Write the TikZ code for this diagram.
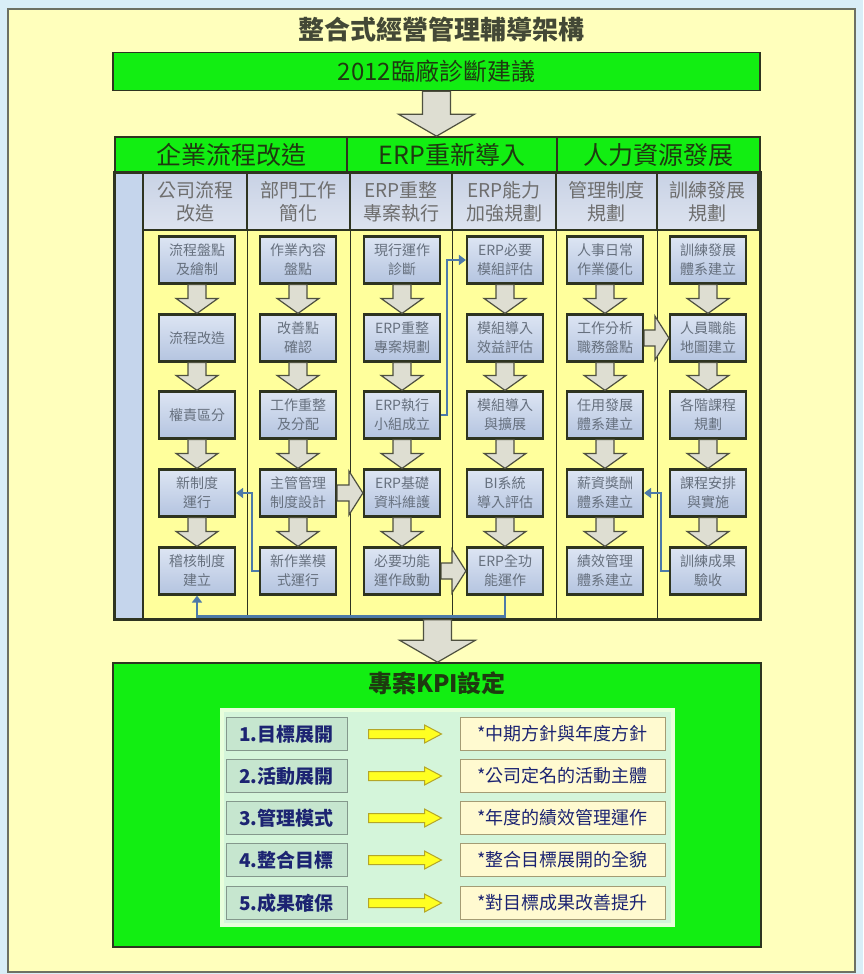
\documentclass[tikz,border=0pt]{standalone}
\usepackage{fontspec}
\newfontfamily\cjk{Noto Sans CJK TC}
\usetikzlibrary{calc,arrows.meta}
\definecolor{bgblue}{HTML}{D9EEF7}
\definecolor{panel}{HTML}{FFFFBC}
\definecolor{colyellow}{HTML}{FFFF9C}
\definecolor{kgreen}{HTML}{12EE12}
\definecolor{darkb}{HTML}{2E3420}
\definecolor{hdrtext}{HTML}{1E3A10}
\definecolor{boxtop}{HTML}{DDE5F3}
\definecolor{boxbot}{HTML}{B4C4E0}
\definecolor{subtop}{HTML}{C8D2E5}
\definecolor{subbot}{HTML}{DDE3EF}
\definecolor{subtext}{HTML}{6E6E6E}
\definecolor{boxtext}{HTML}{66707E}
\definecolor{arrowfill}{HTML}{DEDED2}
\definecolor{arrowline}{HTML}{4E5040}
\definecolor{connblue}{HTML}{4D7AA8}
\definecolor{stripblue}{HTML}{C5D5EC}
\definecolor{panelgreen}{HTML}{D4F5DA}
\definecolor{glow}{HTML}{E8FFDC}
\definecolor{lblfill}{HTML}{C6E6CF}
\definecolor{lblline}{HTML}{84988C}
\definecolor{rfill}{HTML}{FFFAD0}
\definecolor{rline}{HTML}{A49C74}
\definecolor{navy}{HTML}{1C2472}
\definecolor{yarrfill}{HTML}{FFFF22}
\definecolor{yarrline}{HTML}{B4A628}
\tikzset{
  greenbox/.style={draw=darkb, line width=1.6, fill=kgreen, text=hdrtext},
  hdr/.style={greenbox, minimum height=36, font=\cjk\fontsize{25}{28}\selectfont},
  subhdr/.style={draw=darkb, line width=1.2, top color=subtop, bottom color=subbot,
    minimum height=57, align=center, text=subtext, font=\cjk\fontsize{19}{23}\selectfont},
  stepbox/.style={draw=darkb, line width=2.2, top color=boxtop, bottom color=boxbot,
    minimum width=76, minimum height=47, inner sep=1, align=center, text=boxtext,
    font=\cjk\fontsize{14}{19}\selectfont},
  garrow/.style={draw=arrowline, fill=arrowfill, line width=1.2, line join=miter},
  bconn/.style={draw=connblue, line width=2.6, -{Triangle[width=10pt,length=7pt]}},
  lbl/.style={draw=lblline, line width=1, fill=lblfill, minimum width=121, minimum height=33,
    text=navy, font=\cjk\bfseries\fontsize{19}{22}\selectfont},
  rbox/.style={draw=rline, line width=1, fill=rfill, minimum width=205, minimum height=33,
    text=navy, font=\cjk\fontsize{18}{22}\selectfont},
  yarrow/.style={draw=yarrline, fill=yarrfill, line width=1},
  sepline/.style={draw=darkb, line width=1.5}
}
\newcommand\varr[2]{\draw[garrow] ($(#1.south)+(-9,0)$) -- ($(#1.south)+(9,0)$) --
  ($(#2.north)+(9,-15)$) -- ($(#2.north)+(21,-15)$) -- (#2.north) --
  ($(#2.north)+(-21,-15)$) -- ($(#2.north)+(-9,-15)$) -- cycle;}
\newcommand\harr[2]{\draw[garrow] ($(#1.east)+(0,-8)$) -- ($(#2.west)+(-14,-8)$) --
  ($(#2.west)+(-14,-22)$) -- (#2.west) -- ($(#2.west)+(-14,22)$) --
  ($(#2.west)+(-14,8)$) -- ($(#1.east)+(0,8)$) -- cycle;}
\newcommand\bigarr[2]{\draw[garrow] ($(#1)+(-14,0)$) -- ($(#1)+(14,0)$) --
  ($(#2)+(14,-22)$) -- ($(#2)+(38,-22)$) -- (#2) -- ($(#2)+(-38,-22)$) --
  ($(#2)+(-14,-22)$) -- cycle;}
\newcommand\yarr[2]{\draw[yarrow] ($(#1.east)+(21,-4.5)$) -- ($(#2.west)+(-35,-4.5)$) --
  ($(#2.west)+(-35,-9)$) -- ($(#2.west)+(-18,0)$) -- ($(#2.west)+(-35,9)$) --
  ($(#2.west)+(-35,4.5)$) -- ($(#1.east)+(21,4.5)$) -- cycle;}
\begin{document}
\begin{tikzpicture}[x=1pt,y=-1pt]
\useasboundingbox (0,0) rectangle (863,974);
\fill[bgblue] (0,0) rectangle (863,974);
\draw[fill=panel, draw=darkb!70, line width=1.2] (8,9) rectangle (855,972);

% title
\node[font=\cjk\bfseries\fontsize{26}{30}\selectfont, text=darkb!90] (title) at (441,30) {整合式經營管理輔導架構};

% diagnosis box
\node[greenbox, minimum width=647, minimum height=38, font=\cjk\fontsize{24}{28}\selectfont] (diag) at (436.5,71.5) {2012臨廠診斷建議};

% header band
\node[hdr, minimum width=232] (h1) at (231,155) {企業流程改造};
\node[hdr, minimum width=210] (h2) at (452,155) {ERP重新導入};
\node[hdr, minimum width=203] (h3) at (658.5,155) {人力資源發展};

\coordinate (t1) at (diag.south |- h2.north);
\bigarr{diag.south}{t1}

% body
\node[fill=colyellow, draw=darkb, line width=1.6, minimum width=645, minimum height=446, inner sep=0] (body) at (437.5,396) {};
\node[fill=stripblue, draw=darkb, line width=1.2, minimum width=28, minimum height=446, inner sep=0] (strip) at (129,396) {};

% sub headers
\node[subhdr, minimum width=104] (sa) at (195,201.5) {公司流程\\改造};
\node[subhdr, minimum width=103] (sb) at (298.5,201.5) {部門工作\\簡化};
\node[subhdr, minimum width=102] (sc) at (401,201.5) {ERP重整\\專案執行};
\node[subhdr, minimum width=104] (sd) at (504,201.5) {ERP能力\\加強規劃};
\node[subhdr, minimum width=101] (se) at (606.5,201.5) {管理制度\\規劃};
\node[subhdr, minimum width=101] (sf) at (707.5,201.5) {訓練發展\\規劃};

\foreach \s in {sa,sb,sc,sd,se}
  \draw[sepline] (\s.north east) -- (\s.north east |- body.south);
\draw[sepline] (sa.north west) -- (sa.north west |- body.south);
\draw[draw=darkb, line width=1.6] (body.north west) rectangle (body.south east);

% step boxes
\node[stepbox] (a1) at (197,260) {流程盤點\\及繪制};
\node[stepbox] (a2) at (197,338) {流程改造};
\node[stepbox] (a3) at (197,415) {權責區分};
\node[stepbox] (a4) at (197,493) {新制度\\運行};
\node[stepbox] (a5) at (197,571) {稽核制度\\建立};

\node[stepbox] (b1) at (298,260) {作業內容\\盤點};
\node[stepbox] (b2) at (298,338) {改善點\\確認};
\node[stepbox] (b3) at (298,415) {工作重整\\及分配};
\node[stepbox] (b4) at (298,493) {主管管理\\制度設計};
\node[stepbox] (b5) at (298,571) {新作業模\\式運行};

\node[stepbox] (c1) at (402,260) {現行運作\\診斷};
\node[stepbox] (c2) at (402,338) {ERP重整\\專案規劃};
\node[stepbox] (c3) at (402,415) {ERP執行\\小組成立};
\node[stepbox] (c4) at (402,493) {ERP基礎\\資料維護};
\node[stepbox] (c5) at (402,571) {必要功能\\運作啟動};

\node[stepbox] (d1) at (505,260) {ERP必要\\模組評估};
\node[stepbox] (d2) at (505,338) {模組導入\\效益評估};
\node[stepbox] (d3) at (505,415) {模組導入\\與擴展};
\node[stepbox] (d4) at (505,493) {BI系統\\導入評估};
\node[stepbox] (d5) at (505,571) {ERP全功\\能運作};

\node[stepbox] (e1) at (605,260) {人事日常\\作業優化};
\node[stepbox] (e2) at (605,338) {工作分析\\職務盤點};
\node[stepbox] (e3) at (605,415) {任用發展\\體系建立};
\node[stepbox] (e4) at (605,493) {薪資獎酬\\體系建立};
\node[stepbox] (e5) at (605,571) {績效管理\\體系建立};

\node[stepbox] (f1) at (708,260) {訓練發展\\體系建立};
\node[stepbox] (f2) at (708,338) {人員職能\\地圖建立};
\node[stepbox] (f3) at (708,415) {各階課程\\規劃};
\node[stepbox] (f4) at (708,493) {課程安排\\與實施};
\node[stepbox] (f5) at (708,571) {訓練成果\\驗收};

% down arrows
\foreach \c in {a,b,c,d,e,f}
  \foreach \r/\n in {1/2,2/3,3/4,4/5}
    \varr{\c\r}{\c\n};

% right arrows
\harr{b4}{c4}
\harr{c5}{d5}
\harr{e2}{f2}

% blue connectors
\draw[bconn] (c3.east) -- ++(6,0) |- (d1.west);
\draw[bconn] (b5.west) -- ++(-7,0) |- (a4.east);
\draw[bconn] (d5.south) -- ++(0,21) -| (a5.south);
\draw[bconn] (f5.west) -- ++(-8,0) |- (e4.east);

% KPI section
\node[greenbox, minimum width=648, minimum height=284, inner sep=0] (kpi) at (437,805) {};
\coordinate (t2) at (body.south |- kpi.north);
\bigarr{body.south}{t2}
\node[font=\cjk\bfseries\fontsize{24}{28}\selectfont, text=hdrtext] (kpit) at (437,683) {專案KPI設定};
\node[fill=panelgreen, draw=glow, line width=4, minimum width=451, minimum height=215, inner sep=0] (inner) at (447.5,817.5) {};

\node[lbl] (l1) at (286.5,734) {1.目標展開};
\node[lbl] (l2) at (286.5,776) {2.活動展開};
\node[lbl] (l3) at (286.5,818) {3.管理模式};
\node[lbl] (l4) at (286.5,860) {4.整合目標};
\node[lbl] (l5) at (286.5,903) {5.成果確保};

\node[rbox] (r1) at (562.5,734) {*中期方針與年度方針};
\node[rbox] (r2) at (562.5,776) {*公司定名的活動主體};
\node[rbox] (r3) at (562.5,818) {*年度的績效管理運作};
\node[rbox] (r4) at (562.5,860) {*整合目標展開的全貌};
\node[rbox] (r5) at (562.5,903) {*對目標成果改善提升};

\foreach \i in {1,...,5} \yarr{l\i}{r\i};
\end{tikzpicture}
\end{document}
